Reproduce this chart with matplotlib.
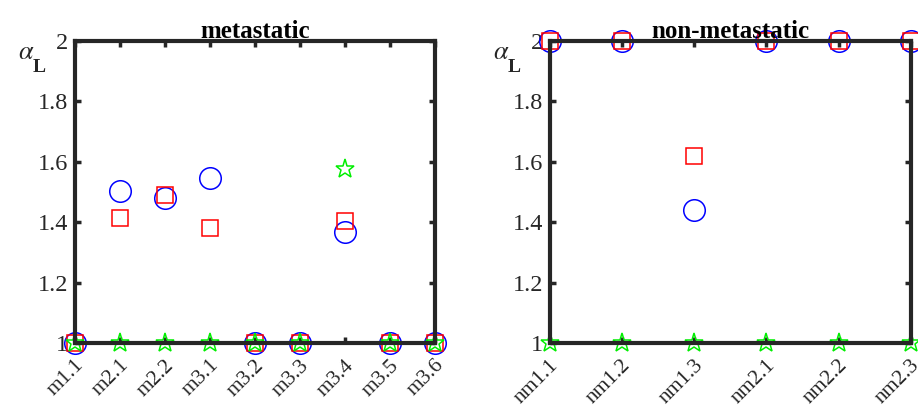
import matplotlib.pyplot as plt
import matplotlib.transforms as mtransforms
import numpy as np

plt.rcParams['font.family'] = ['Liberation Serif', 'DejaVu Serif']
plt.rcParams['mathtext.fontset'] = 'stix'

# metastatic samples
met_labels = ['m1.1', 'm2.1', 'm2.2', 'm3.1', 'm3.2', 'm3.3', 'm3.4', 'm3.5', 'm3.6']
met_circ = [1, 1.503, 1.48, 1.546, 1, 1, 1.368, 1, 1]
met_sq = [1, 1.414, 1.49, 1.381, 1, 1, 1.404, 1, 1]
met_star = [1, 1, 1, 1, 1, 1, 1.576, 1, 1]

# non-metastatic samples
nm_labels = ['nm1.1', 'nm1.2', 'nm1.3', 'nm2.1', 'nm2.2', 'nm2.3']
nm_circ = [2, 2, 1.44, 2, 2, 2]
nm_sq = [2, 2, 1.619, 2, 2, 2]
nm_star = [1, 1, 1, 1, 1, 1]

fig = plt.figure(figsize=(9.18, 4.08), dpi=100)
ax1 = fig.add_axes([0.0817, 0.159, 0.392, 0.7405])
ax2 = fig.add_axes([0.599, 0.159, 0.393, 0.7405])


def panel(ax, labels, circ, sq, star, title):
    x = np.arange(1, len(labels) + 1)
    ax.plot(x, circ, 'o', ms=15.5, mfc='none', mec='#0000ff', mew=1.1, clip_on=False)
    ax.plot(x, sq, 's', ms=11, mfc='none', mec='#ff0000', mew=1.1, clip_on=False)
    ax.plot(x, star, '*', ms=14, mfc='none', mec='#00ee00', mew=1.1, clip_on=False)
    ax.set_xlim(1, len(labels))
    ax.set_ylim(1, 2)
    ax.set_xticks(x)
    ax.set_xticklabels(labels, rotation=45, ha='right', va='center',
                       rotation_mode='anchor', fontsize=15.5)
    ax.set_yticks([1, 1.2, 1.4, 1.6, 1.8, 2])
    ax.set_yticklabels(['1', '1.2', '1.4', '1.6', '1.8', '2'])
    ax.tick_params(direction='in', top=True, right=True, length=4, width=2.5,
                   color='#262626', labelcolor='#262626')
    ax.tick_params(axis='y', pad=5, labelsize=17.5)
    ax.tick_params(axis='x', pad=14)
    shift = mtransforms.ScaledTranslation(0.06, 0, fig.dpi_scale_trans)
    for lab in ax.get_xticklabels():
        lab.set_transform(lab.get_transform() + shift)
    for s in ax.spines.values():
        s.set_linewidth(3)
        s.set_color('#262626')
    ax.set_title(title, fontsize=18, fontweight='bold', pad=2)
    ax.text(-0.158, 0.997, r'$\alpha$', transform=ax.transAxes,
            fontsize=19, ha='left', va='top', color='#262626')
    ax.text(-0.117, 0.94, 'L', transform=ax.transAxes, fontweight='bold',
            fontsize=14, ha='left', va='top', color='#262626')


panel(ax1, met_labels, met_circ, met_sq, met_star, 'metastatic')
panel(ax2, nm_labels, nm_circ, nm_sq, nm_star, 'non-metastatic')

fig.savefig('out.png', dpi=100)
